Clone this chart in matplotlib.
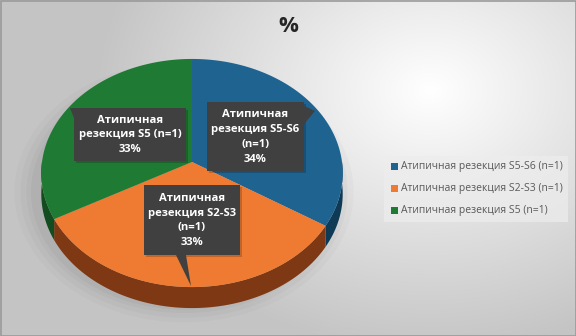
import numpy as np
import matplotlib
matplotlib.use("Agg")
import matplotlib.pyplot as plt
from matplotlib.patches import Polygon, Rectangle, Ellipse

plt.rcParams['font.family'] = ['Open Sans', 'DejaVu Sans']

# ---- data ----
title = "%"
categories = ["Атипичная резекция S5-S6 (n=1)",
              "Атипичная резекция S2-S3 (n=1)",
              "Атипичная резекция S5 (n=1)"]
values = [34, 33, 33]
label_texts = ["Атипичная\nрезекция S5-S6\n(n=1)\n34%",
               "Атипичная\nрезекция S2-S3\n(n=1)\n33%",
               "Атипичная\nрезекция S5 (n=1)\n33%"]
top_colors = ["#1F6391", "#EE7B31", "#1F7A33"]
side_colors = ["#0F3A56", "#7E3813", "#124C1F"]

# ---- figure ----
W, H = 576, 336
fig = plt.figure(figsize=(W / 100, H / 100), dpi=100)
ax = fig.add_axes([0, 0, 1, 1])
ax.set_xlim(0, W)
ax.set_ylim(H, 0)
ax.axis("off")

# background radial gradient
yy, xx = np.mgrid[0:H, 0:W]
d = np.sqrt(((xx - 430) / 320.0) ** 2 + ((yy - 90) / 250.0) ** 2)
lev = np.clip(1.0 - 0.22 * d, 0.77, 1.0)
bg = np.dstack([lev, lev, lev])
ax.imshow(bg, extent=[0, W, H, 0], aspect="auto", zorder=0, interpolation="bilinear")
ax.add_patch(Rectangle((0.5, 0.5), W - 1, H - 1, fill=False, ec="#9A9A9A", lw=1.2, zorder=20))

# ---- pie geometry (perspective ellipse) ----
cx, cy, rx, ry, k, depth = 192, 162, 150, 113, 0.0965, 21


def proj(theta_deg, z=0.0):
    t = np.radians(theta_deg)
    u, v = np.sin(t), -np.cos(t)
    dd = 1 - k * v
    return cx + rx * u / dd, cy + ry * v / dd + depth * z


# soft shadow
for a, s in [(0.04, 1.13), (0.05, 1.09), (0.06, 1.05), (0.07, 1.02)]:
    ax.add_patch(Ellipse((cx - 8, cy + 30), 2 * rx * s, 2 * ry * s * 1.02,
                         fc="#666666", ec="none", alpha=a, zorder=1))

fracs = np.array(values, float) / np.sum(values)
bounds = np.concatenate([[0], np.cumsum(fracs) * 360])

# side walls (front visible half: theta 90..270)
for i in range(len(values)):
    a0, a1 = max(bounds[i], 90), min(bounds[i + 1], 270)
    if a1 <= a0:
        continue
    th = np.linspace(a0, a1, 80)
    xt, yt = proj(th, 0)
    xb, yb = proj(th, 1)
    pts = np.column_stack([np.concatenate([xt, xb[::-1]]), np.concatenate([yt, yb[::-1]])])
    ax.add_patch(Polygon(pts, closed=True, fc=side_colors[i], ec="none", zorder=2))

# top faces
for i in range(len(values)):
    th = np.linspace(bounds[i], bounds[i + 1], 150)
    xs, ys = proj(th, 0)
    pts = np.column_stack([np.concatenate([[cx], xs]), np.concatenate([[cy], ys])])
    ax.add_patch(Polygon(pts, closed=True, fc=top_colors[i], ec="none", zorder=3))

# ---- callout labels ----
box_col = "#404040"
boxes = [
    ((207, 102, 304, 171), [(296, 102), (315, 111), (304, 124)]),
    ((144, 185, 240, 255), [(176, 255), (191, 286), (186, 255)]),
    ((74, 108, 186, 161), [(74, 118), (70, 108), (84, 108)]),
]
for i, ((x0, y0, x1, y1), tail) in enumerate(boxes):
    ax.add_patch(Rectangle((x0 + 2, y0 + 2), x1 - x0, y1 - y0, fc="#000000", alpha=0.18, ec="none", zorder=4))
    ax.add_patch(Rectangle((x0, y0), x1 - x0, y1 - y0, fc=box_col, ec="none", zorder=5))
    ax.add_patch(Polygon(tail, closed=True, fc=box_col, ec="none", zorder=5))
    ax.text((x0 + x1) / 2, (y0 + y1) / 2 + 0.5, label_texts[i], ha="center", va="center",
            color="white", fontsize=8.1, fontweight="bold", linespacing=1.47, zorder=6)

# ---- title ----
ax.text(288, 26, title, ha="center", va="center", fontsize=16, fontweight="bold",
        color="#262626", zorder=6)

# ---- legend ----
ax.add_patch(Rectangle((384, 156), 184, 66, fc="#EDEDED", ec="none", alpha=0.7, zorder=4))
ly = [166, 188, 210]
for i in range(len(categories)):
    ax.add_patch(Rectangle((391, ly[i] - 3.5), 7, 7, fc=top_colors[i], ec="none", zorder=6))
    ax.text(401, ly[i], categories[i], ha="left", va="center", fontsize=7.5,
            color="#595959", zorder=6)

fig.savefig("out.png", dpi=100)
